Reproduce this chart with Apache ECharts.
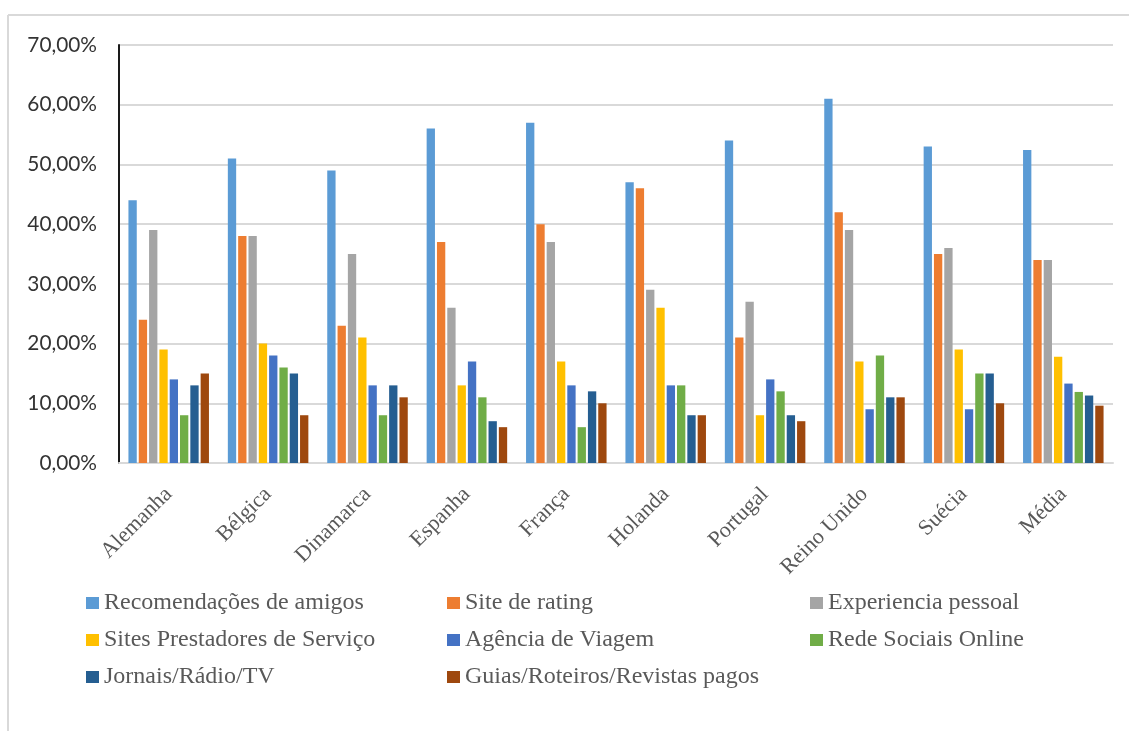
<!DOCTYPE html>
<html>
<head>
<meta charset="utf-8">
<script src="https://cdn.jsdelivr.net/npm/echarts@6/dist/echarts.min.js"></script>
<style>
  html, body { margin: 0; padding: 0; background: #ffffff; }
  #chart { width: 1129px; height: 731px; }
</style>
</head>
<body>
<div id="chart"></div>
<script>
// Países e média
const categories = ['Alemanha', 'Bélgica', 'Dinamarca', 'Espanha', 'França', 'Holanda', 'Portugal', 'Reino Unido', 'Suécia', 'Média'];

// Percentagem de inquiridos por fonte de informação
const recomendacoesAmigos = [44, 51, 49, 56, 57, 47, 54, 61, 53, 52.4];
const siteRating          = [24, 38, 23, 37, 40, 46, 21, 42, 35, 34.0];
const experienciaPessoal  = [39, 38, 35, 26, 37, 29, 27, 39, 36, 34.0];
const sitesPrestadores    = [19, 20, 21, 13, 17, 26, 8, 17, 19, 17.8];
const agenciaViagem       = [14, 18, 13, 17, 13, 13, 14, 9, 9, 13.3];
const redeSociais         = [8, 16, 8, 11, 6, 13, 12, 18, 15, 11.9];
const jornaisRadioTV      = [13, 15, 13, 7, 12, 8, 8, 11, 15, 11.3];
const guiasPagos          = [15, 8, 11, 6, 10, 8, 7, 11, 10, 9.6];

const seriesNames = [
  'Recomendações de amigos', 'Site de rating', 'Experiencia pessoal',
  'Sites Prestadores de Serviço', 'Agência de Viagem', 'Rede Sociais Online',
  'Jornais/Rádio/TV', 'Guias/Roteiros/Revistas pagos'
];
const seriesData = [
  recomendacoesAmigos, siteRating, experienciaPessoal, sitesPrestadores,
  agenciaViagem, redeSociais, jornaisRadioTV, guiasPagos
];
const colors = ['#5B9BD5', '#ED7D31', '#A5A5A5', '#FFC000', '#4472C4', '#70AD47', '#255E91', '#9E480E'];

// Eixo vertical
const yMin = 0, yMax = 70, yStep = 10;

const serif = 'Liberation Serif';
const legendFont = { fontFamily: serif, fontSize: 24, color: '#595959', lineHeight: 24 };

// Uma coluna de legenda (disposição em grelha de 3 colunas)
function legendColumn(names, left) {
  return {
    orient: 'vertical',
    left: left,
    top: 586,
    itemWidth: 13,
    itemHeight: 12,
    itemGap: 13,
    icon: 'rect',
    data: names,
    selectedMode: false,
    textStyle: legendFont
  };
}

const chart = echarts.init(document.getElementById('chart'), null, { renderer: 'canvas' });

chart.setOption({
  animation: false,
  color: colors,
  textStyle: { fontFamily: serif },
  graphic: [
    { type: 'line', shape: { x1: 8, y1: 15, x2: 1129, y2: 15 }, style: { stroke: '#d9d9d9', lineWidth: 2 } },
    { type: 'line', shape: { x1: 8, y1: 15, x2: 8, y2: 731 }, style: { stroke: '#d9d9d9', lineWidth: 2 } }
  ],
  legend: [
    legendColumn([seriesNames[0], seriesNames[3], seriesNames[6]], 81),
    legendColumn([seriesNames[1], seriesNames[4], seriesNames[7]], 442),
    legendColumn([seriesNames[2], seriesNames[5]], 805)
  ],
  grid: { left: 119, right: 16, top: 45, bottom: 268 },
  xAxis: {
    type: 'category',
    data: categories,
    axisLine: { show: true, lineStyle: { color: '#d9d9d9', width: 2 } },
    axisTick: { show: false },
    axisLabel: {
      rotate: 45,
      interval: 0,
      margin: 28,
      fontFamily: serif,
      fontSize: 22,
      color: '#595959'
    }
  },
  yAxis: {
    type: 'value',
    min: yMin,
    max: yMax,
    interval: yStep,
    axisLine: { show: true, lineStyle: { color: '#1a1a1a', width: 2 } },
    axisTick: { show: false },
    splitLine: { show: true, lineStyle: { color: '#d9d9d9', width: 2 } },
    axisLabel: {
      margin: 22,
      fontFamily: 'Lato',
      fontSize: 20.8,
      color: '#333333',
      formatter: function (v) { return v.toFixed(2).replace('.', ',') + '%'; }
    }
  },
  series: seriesNames.map(function (name, i) {
    return {
      name: name,
      type: 'bar',
      data: seriesData[i],
      barGap: '24%',
      barCategoryGap: '19%',
      itemStyle: { color: colors[i] }
    };
  })
});
</script>
</body>
</html>
